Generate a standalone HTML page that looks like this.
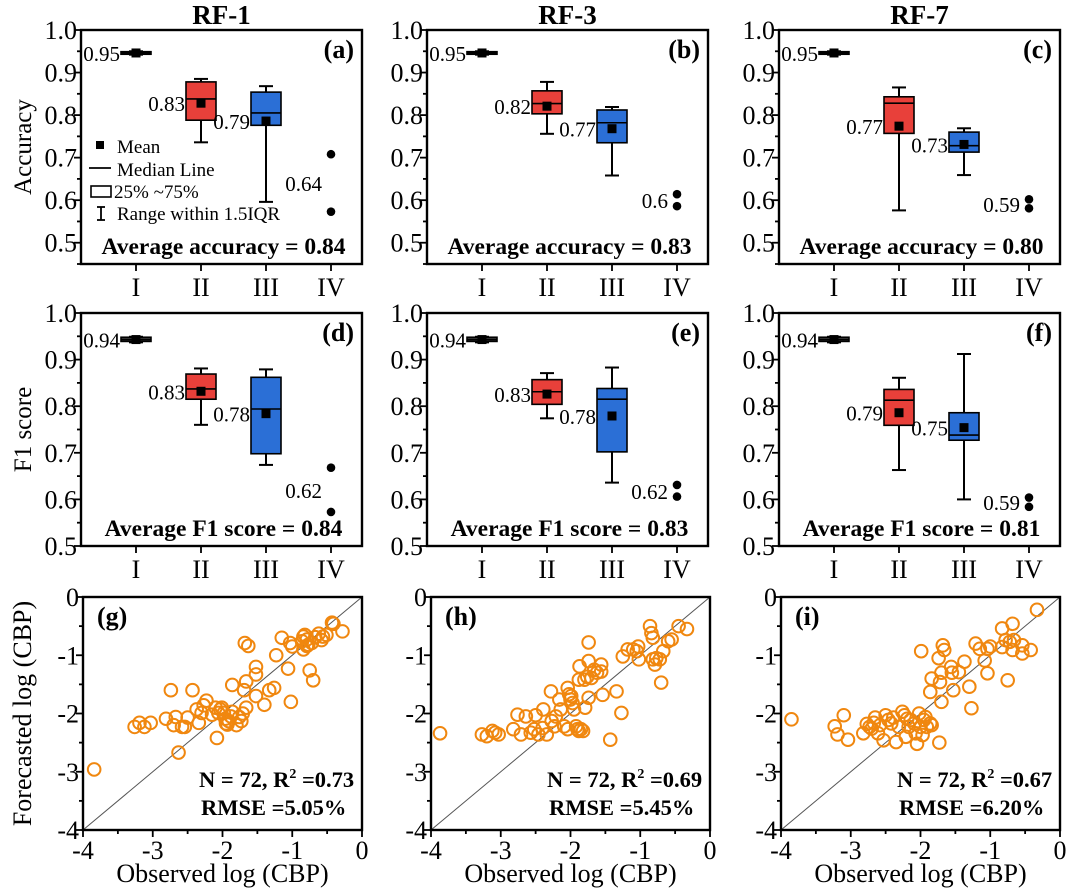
<!DOCTYPE html>
<html><head><meta charset="utf-8"><style>
html,body{margin:0;padding:0;background:#fff;}
svg, svg text{font-family:"Liberation Serif","DejaVu Serif","Times New Roman",Times,serif;}
</style></head><body>
<svg id="fig" width="1080" height="889" viewBox="0 0 1080 889" font-family="Liberation Serif, DejaVu Serif, serif" xmlns="http://www.w3.org/2000/svg"></svg>
<script>
// ---------- data ----------
const categories = ["I","II","III","IV"];
const modelTitles = ["RF-1","RF-3","RF-7"];
const accTicks = [0.5,0.6,0.7,0.8,0.9,1.0];
const f1Ticks = [0.5,0.6,0.7,0.8,0.9,1.0];
const scTicks = [-4,-3,-2,-1,0];
// box stats per panel: [lo, q1, median, q3, hi, mean] for I, II, III
const accBoxes = [
  [[0.942,0.943,0.946,0.949,0.950,0.946],[0.736,0.788,0.838,0.878,0.885,0.828],[0.596,0.776,0.805,0.854,0.868,0.786]],
  [[0.942,0.943,0.946,0.949,0.950,0.946],[0.756,0.803,0.827,0.857,0.878,0.821],[0.658,0.735,0.782,0.812,0.819,0.768]],
  [[0.942,0.943,0.946,0.949,0.950,0.946],[0.576,0.757,0.828,0.843,0.865,0.774],[0.659,0.713,0.728,0.760,0.769,0.731]]
];
const f1Boxes = [
  [[0.937,0.939,0.943,0.948,0.949,0.943],[0.760,0.815,0.837,0.869,0.881,0.832],[0.674,0.698,0.794,0.862,0.879,0.784]],
  [[0.937,0.939,0.943,0.948,0.949,0.943],[0.774,0.804,0.831,0.857,0.871,0.826],[0.636,0.702,0.815,0.838,0.883,0.779]],
  [[0.937,0.939,0.943,0.948,0.949,0.943],[0.663,0.759,0.813,0.836,0.861,0.786],[0.600,0.727,0.738,0.786,0.912,0.754]]
];
const accOutliers = [[0.708,0.573],[0.614,0.586],[0.602,0.581]];
const f1Outliers = [[0.668,0.573],[0.631,0.606],[0.604,0.584]];
const accMeanLabels = [["0.95","0.83","0.79","0.64"],["0.95","0.82","0.77","0.6"],["0.95","0.77","0.73","0.59"]];
const f1MeanLabels = [["0.94","0.83","0.78","0.62"],["0.94","0.83","0.78","0.62"],["0.94","0.79","0.75","0.59"]];
const accAverages = ["0.84","0.83","0.80"];
const f1Averages = ["0.84","0.83","0.81"];
const r2Values = ["0.73","0.69","0.67"];
const rmseValues = ["5.05%","5.45%","6.20%"];
// scatter points (observed, forecasted)
const gObs = [-3.84,-3.26,-3.19,-3.12,-3.03,-2.81,-2.74,-2.70,-2.67,-2.58,-2.54,-2.50,-2.63,-2.43,-2.37,-2.34,-2.30,-2.27,-2.23,-2.15,-2.10,-2.08,-2.06,-2.03,-2.01,-1.98,-1.96,-1.93,-1.91,-1.88,-1.86,-1.86,-1.76,-1.71,-1.66,-1.73,-1.68,-1.63,-1.69,-1.66,-1.52,-1.52,-1.52,-1.40,-1.33,-1.26,-1.23,-1.15,-1.06,-1.03,-1.00,-1.02,-0.86,-0.84,-0.82,-0.79,-0.84,-0.79,-0.77,-0.72,-0.67,-0.62,-0.58,-0.56,-0.51,-0.43,-0.75,-0.70,-0.41,-0.28,-1.95,-1.80];
const gFor = [-2.96,-2.23,-2.16,-2.23,-2.16,-2.09,-1.60,-2.20,-2.06,-2.23,-2.23,-2.07,-2.67,-1.60,-1.93,-2.16,-1.99,-1.86,-1.78,-2.02,-1.90,-2.42,-1.99,-1.93,-1.90,-1.99,-2.09,-2.19,-2.13,-2.05,-1.97,-1.51,-2.06,-2.00,-1.90,-2.13,-0.79,-0.84,-1.60,-1.45,-1.20,-1.33,-1.70,-1.85,-1.60,-1.56,-1.00,-0.70,-1.23,-0.79,-0.85,-1.80,-0.76,-0.68,-0.65,-0.73,-0.90,-0.84,-0.82,-0.79,-0.69,-0.63,-0.74,-0.68,-0.65,-0.44,-1.26,-1.43,-0.46,-0.59,-2.17,-2.20];
const hObs = [-3.87,-3.27,-3.20,-3.12,-3.08,-3.03,-2.82,-2.76,-2.71,-2.64,-2.57,-2.52,-2.50,-2.46,-2.39,-2.34,-2.28,-2.27,-2.23,-2.21,-2.16,-2.14,-2.09,-2.04,-2.04,-2.02,-2.00,-1.97,-1.95,-1.92,-1.90,-1.88,-1.85,-1.82,-1.79,-1.87,-1.88,-1.80,-1.76,-1.74,-1.74,-1.70,-1.66,-1.56,-1.56,-1.74,-1.54,-1.43,-1.34,-1.27,-1.25,-1.18,-1.10,-1.05,-1.03,-1.02,-0.86,-0.84,-0.82,-0.82,-0.79,-0.77,-0.72,-0.70,-0.67,-0.60,-0.55,-0.45,-0.33,-2.40,-1.99,-1.62];
const hFor = [-2.34,-2.36,-2.39,-2.30,-2.33,-2.36,-2.27,-2.02,-2.36,-2.05,-2.33,-2.27,-2.03,-2.36,-1.93,-2.36,-1.62,-2.13,-2.22,-2.05,-1.76,-1.93,-2.22,-2.27,-1.56,-1.67,-1.76,-1.82,-1.93,-2.22,-2.27,-2.30,-2.27,-2.30,-1.90,-1.19,-1.42,-1.42,-1.37,-0.78,-1.10,-1.39,-1.25,-1.16,-1.28,-1.73,-1.68,-2.45,-1.62,-1.99,-1.02,-0.90,-0.90,-0.93,-0.85,-1.07,-0.50,-0.62,-0.70,-1.07,-1.16,-1.05,-1.07,-1.47,-0.93,-0.76,-0.73,-0.50,-0.55,-2.25,-1.70,-1.30];
const iObs = [-3.85,-3.23,-3.19,-3.10,-3.04,-2.82,-2.77,-2.73,-2.70,-2.67,-2.65,-2.61,-2.58,-2.53,-2.50,-2.46,-2.42,-2.39,-2.35,-2.31,-2.26,-2.23,-2.21,-2.19,-2.17,-2.14,-2.09,-2.07,-2.05,-2.02,-2.00,-1.97,-1.95,-1.93,-1.91,-1.86,-1.84,-1.73,-1.99,-1.86,-1.84,-1.74,-1.72,-1.68,-1.70,-1.66,-1.70,-1.56,-1.55,-1.53,-1.45,-1.37,-1.30,-1.27,-1.21,-1.15,-1.08,-1.04,-1.04,-1.00,-0.83,-0.83,-0.78,-0.75,-0.72,-0.68,-0.68,-0.66,-0.54,-0.54,-0.42,-0.33];
const iFor = [-2.10,-2.22,-2.36,-2.03,-2.45,-2.34,-2.18,-2.23,-2.26,-2.16,-2.07,-2.34,-2.20,-2.46,-2.03,-2.11,-2.17,-2.07,-2.49,-2.23,-1.97,-2.03,-2.40,-2.09,-2.23,-2.11,-2.17,-2.34,-2.52,-2.00,-2.23,-2.37,-2.11,-2.06,-2.23,-2.17,-2.20,-2.50,-0.93,-1.63,-1.40,-1.05,-1.46,-0.83,-1.30,-0.91,-1.80,-1.20,-1.30,-1.60,-1.29,-1.11,-1.54,-1.91,-0.80,-0.89,-1.09,-1.31,-0.89,-0.85,-0.54,-0.86,-0.74,-1.43,-0.77,-0.46,-0.91,-0.74,-0.83,-0.97,-0.91,-0.22];
const scatterObs = [gObs,hObs,iObs];
const scatterFor = [gFor,hFor,iFor];

// ---------- drawing ----------
const NS = "http://www.w3.org/2000/svg";
const svg = document.getElementById("fig");
const FONT = '"Liberation Serif","DejaVu Serif",serif';
function el(tag, attrs, parent, text){
  const e = document.createElementNS(NS, tag);
  for (const k in attrs) e.setAttribute(k, attrs[k]);
  if (tag === "text") e.setAttribute("style", "font-family:" + FONT);
  if (text !== undefined) e.textContent = text;
  (parent || svg).appendChild(e);
  return e;
}
const colLeft = [81, 427, 779];
const colW = 281;
const boxRows = [
  {top:30, bottom:264, vmin:0.45, vmax:1.0, boxes:accBoxes, outl:accOutliers, labels:accMeanLabels, avg:accAverages, avgText:"Average accuracy = ", letters:["(a)","(b)","(c)"], ticks:accTicks, ytitle:"Accuracy", key:"accuracy"},
  {top:313, bottom:546, vmin:0.5, vmax:1.0, boxes:f1Boxes, outl:f1Outliers, labels:f1MeanLabels, avg:f1Averages, avgText:"Average F1 score = ", letters:["(d)","(e)","(f)"], ticks:f1Ticks, ytitle:"F1 score", key:"f1"}
];
const boxColors = ["#444444","#e8403a","#2b6fd6"];

modelTitles.forEach((t,c)=>{
  const tt = el("text",{x:colLeft[c]+colW/2, y:24, "text-anchor":"middle", "font-size":"27", "font-weight":"bold"}, svg, t);
  
  
});

boxRows.forEach((row, r)=>{
  for (let c=0;c<3;c++){
    const L = colLeft[c], R = L+colW;
    const yS = v => row.bottom - (v-row.vmin)/(row.vmax-row.vmin)*(row.bottom-row.top);
    const xS = i => L + 55 + 65*i;
    const g = el("g",{});
    
    
    const fr = el("rect",{x:L,y:row.top,width:colW,height:row.bottom-row.top,fill:"none",stroke:"#000","stroke-width":"2.4"},g);
    
    
    for (let v=row.vmin; v<=row.vmax+1e-9; v+=0.05){
      const vv = Math.round(v*100)/100;
      const major = Math.abs(vv*10 - Math.round(vv*10))<1e-6;
      el("line",{x1:L-(major?7:4),x2:L,y1:yS(vv),y2:yS(vv),stroke:"#000","stroke-width":"1.8"},g);
    }
    row.ticks.forEach(v=>{
      const tl = el("text",{x:L-4,y:yS(v)+9,"text-anchor":"end","font-size":"26"},g,v.toFixed(1));
      
      
    });
    categories.forEach((cat,i)=>{
      el("line",{x1:xS(i),x2:xS(i),y1:row.bottom,y2:row.bottom+7,stroke:"#000","stroke-width":"1.8"},g);
      const xl = el("text",{x:xS(i),y:row.bottom+32,"text-anchor":"middle","font-size":"26"},g,cat);
      
      
    });
    row.boxes[c].forEach((b,i)=>{
      const cx = xS(i), hw = 15;
      const bg = el("g",{},g);
      
      
      el("line",{x1:cx,x2:cx,y1:yS(b[0]),y2:yS(b[4]),stroke:"#000","stroke-width":"2"},bg);
      el("line",{x1:cx-7,x2:cx+7,y1:yS(b[0]),y2:yS(b[0]),stroke:"#000","stroke-width":"2"},bg);
      el("line",{x1:cx-7,x2:cx+7,y1:yS(b[4]),y2:yS(b[4]),stroke:"#000","stroke-width":"2"},bg);
      el("rect",{x:cx-hw,y:yS(b[3]),width:2*hw,height:Math.max(1,yS(b[1])-yS(b[3])),fill:boxColors[i],stroke:"#000","stroke-width":"1.6"},bg);
      el("line",{x1:cx-hw,x2:cx+hw,y1:yS(b[2]),y2:yS(b[2]),stroke:"#000","stroke-width":"1.6"},bg);
      el("rect",{x:cx-4.5,y:yS(b[5])-4.5,width:9,height:9,fill:"#000"},bg);
      const ml = el("text",{x:cx-hw-1,y:yS(b[5])+8,"text-anchor":"end","font-size":"21"},g,row.labels[c][i]);
      
      
    });
    const ox = xS(3);
    row.outl[c].forEach(v=>{
      const p = el("circle",{cx:ox,cy:yS(v),r:4.3,fill:"#000"},g);
      
      
    });
    const mid = (row.outl[c][0]+row.outl[c][1])/2;
    const ol = el("text",{x:ox-9,y:yS(mid)+8,"text-anchor":"end","font-size":"21"},g,row.labels[c][3]);
    
    
    const pl = el("text",{x:R-8,y:row.top+28,"text-anchor":"end","font-size":"26","font-weight":"bold"},g,row.letters[c]);
    
    
    const av = el("text",{x:L+colW/2+2,y:row.bottom-10,"text-anchor":"middle","font-size":"23.5","font-weight":"bold"},g,row.avgText+row.avg[c]);
    
    
  }
  const yt = el("text",{x:0,y:0,"text-anchor":"middle","font-size":"25",transform:`translate(31 ${(row.top+row.bottom)/2}) rotate(-90)`},svg,row.ytitle);
  
  
});

(function(){
  const lg = el("g",{});
  
  
  el("rect",{x:96,y:141,width:8,height:8,fill:"#000"},lg);
  el("text",{x:117,y:153,"font-size":"19"},lg,"Mean");
  el("line",{x1:89,x2:111,y1:168,y2:168,stroke:"#000","stroke-width":"1.8"},lg);
  el("text",{x:117,y:176,"font-size":"19"},lg,"Median Line");
  el("rect",{x:91,y:186,width:20,height:11,fill:"none",stroke:"#000","stroke-width":"1.6"},lg);
  el("text",{x:114,y:198,"font-size":"19"},lg,"25% ~75%");
  el("line",{x1:101,x2:101,y1:207,y2:220,stroke:"#000","stroke-width":"1.8"},lg);
  el("line",{x1:97,x2:105,y1:207,y2:207,stroke:"#000","stroke-width":"1.8"},lg);
  el("line",{x1:97,x2:105,y1:220,y2:220,stroke:"#000","stroke-width":"1.8"},lg);
  el("text",{x:117,y:220,"font-size":"19"},lg,"Range within 1.5IQR");
})();

const scLeft = [83, 431, 781];
const scW = 279, scTop = 597, scBottom = 830;
const scLetters = ["(g)","(h)","(i)"];
for (let c=0;c<3;c++){
  const L = scLeft[c];
  const xS = v => L + (v+4)/4*scW;
  const yS = v => scBottom - (v+4)/4*(scBottom-scTop);
  const g = el("g",{});
  
  
  el("line",{x1:xS(-4),y1:yS(-4),x2:xS(0),y2:yS(0),stroke:"#555","stroke-width":"1"},g);
  scatterObs[c].forEach((o,k)=>{
    const p = el("circle",{cx:xS(o),cy:yS(scatterFor[c][k]),r:6.3,fill:"none",stroke:"#f0870f","stroke-width":"2"},g);
    
    
  });
  el("rect",{x:L,y:scTop,width:scW,height:scBottom-scTop,fill:"none",stroke:"#000","stroke-width":"2.4"},g);
  for (let v=-4; v<=0; v+=0.5){
    const major = Number.isInteger(v);
    el("line",{x1:L-(major?7:4),x2:L,y1:yS(v),y2:yS(v),stroke:"#000","stroke-width":"1.8"},g);
    el("line",{x1:xS(v),x2:xS(v),y1:scBottom,y2:scBottom+(major?7:4),stroke:"#000","stroke-width":"1.8"},g);
  }
  scTicks.forEach(v=>{
    const a = el("text",{x:L-4,y:yS(v)+9,"text-anchor":"end","font-size":"26"},g,String(v));
    
    
    const b = el("text",{x:xS(v),y:scBottom+29,"text-anchor":"middle","font-size":"26"},g,String(v));
    
    
  });
  const pl = el("text",{x:L+14,y:scTop+28,"font-size":"26","font-weight":"bold"},g,scLetters[c]);
  
  
  const st = el("text",{x:L+116,y:scBottom-43,"font-size":"22.5","font-weight":"bold"},g);
  
  
  el("tspan",{},st,"N = 72, R");
  el("tspan",{dy:"-9","font-size":"14"},st,"2");
  el("tspan",{dy:"9"},st," =" + r2Values[c]);
  const rm = el("text",{x:L+118,y:scBottom-15,"font-size":"22.5","font-weight":"bold"},g,"RMSE =" + rmseValues[c]);
  
  
  const xt = el("text",{x:L+scW/2,y:882,"text-anchor":"middle","font-size":"26"},g,"Observed log (CBP)");
  
  
}
const fyt = el("text",{x:0,y:0,"text-anchor":"middle","font-size":"26",transform:`translate(31 ${(scTop+scBottom)/2}) rotate(-90)`},svg,"Forecasted log (CBP)");


</script>
</body></html>
